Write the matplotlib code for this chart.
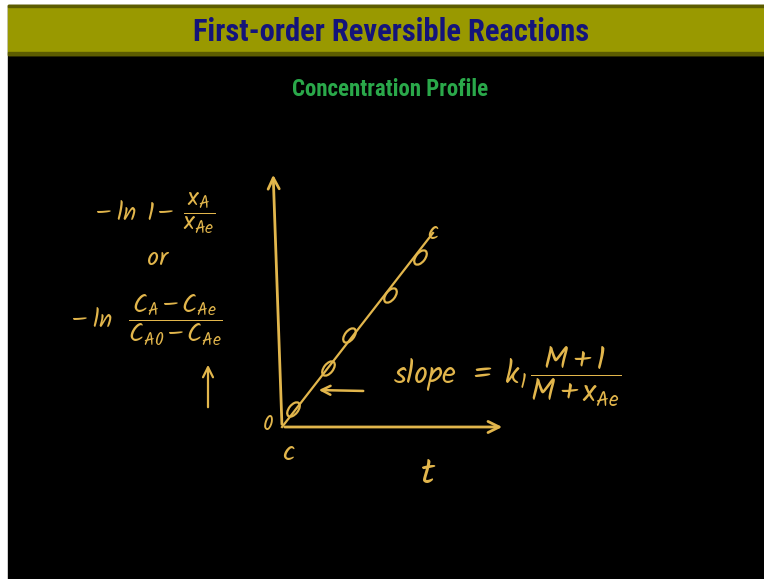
import matplotlib
matplotlib.use("Agg")
import matplotlib.pyplot as plt
from matplotlib.patches import Rectangle
from matplotlib.markers import MarkerStyle
from matplotlib.transforms import Affine2D

SLIDE_FONT = ['Roboto Condensed', 'PT Sans Narrow', 'Archivo Narrow', 'DejaVu Sans']
HAND_FONT = ['Kalam', 'Caveat', 'DejaVu Sans']

plt.rcParams['font.family'] = SLIDE_FONT
plt.rcParams['mathtext.fontset'] = 'custom'
plt.rcParams['mathtext.rm'] = 'Kalam'
plt.rcParams['mathtext.it'] = 'Kalam'
plt.rcParams['mathtext.bf'] = 'Kalam:bold'
plt.rcParams['mathtext.fallback'] = 'stixsans'

# slide text
TITLE = "First-order Reversible Reactions"
SUBTITLE = "Concentration Profile"

# measured points (t, -ln term) and the sketched straight line through them
t_pts = [0.48, 2.06, 3.02, 4.84, 6.19]
y_pts = [0.69, 2.30, 3.61, 5.18, 6.68]
line_t = [0.0, 6.77]
line_y = [0.0, 7.61]

INK = '#e2b64c'
W, H = 764, 579

fig = plt.figure(figsize=(W / 100, H / 100), dpi=100)
fig.patch.set_facecolor('white')

# page layer in pixel units
page = fig.add_axes([0, 0, 1, 1])
page.set_xlim(0, W)
page.set_ylim(H, 0)
page.axis('off')

page.add_patch(Rectangle((8, 5), W - 8, H - 5, color='black', zorder=0))
page.add_patch(Rectangle((8, 5), W - 8, 50, color='#999900', zorder=1))
page.add_patch(Rectangle((8, 5), W - 8, 2, color='#5c5c00', zorder=2))
page.add_patch(Rectangle((8, 52), W - 8, 3, color='#5c5c00', zorder=2))

page.text(391, 32, TITLE, color='#14147a', fontsize=22, fontweight='bold',
          ha='center', va='center', zorder=3)
page.text(390, 89, SUBTITLE, color='#2aa84a', fontsize=16.5, fontweight='bold',
          ha='center', va='center', zorder=3)

# handwritten notes
hand = dict(color=INK, ha='center', va='center', zorder=3, family=HAND_FONT)
page.text(155, 213, r'$-\ \ln\ 1-\ \dfrac{x_A}{x_{Ae}}$', fontsize=18, **hand)
page.text(157, 258, 'or', fontsize=19, **hand)
page.text(147, 320, r'$-\ \ln\ \ \dfrac{C_A - C_{Ae}}{C_{A0} - C_{Ae}}$',
          fontsize=18, **hand)
page.annotate('', xy=(208, 362), xytext=(208, 410),
              arrowprops=dict(arrowstyle='->', color=INK, lw=1.6,
                              mutation_scale=18), zorder=3)
page.text(507, 377, r'slope $=\ k_1\,\dfrac{M+1}{M+x_{Ae}}$', fontsize=22, **hand)
page.annotate('', xy=(316, 390), xytext=(366, 391),
              arrowprops=dict(arrowstyle='->', color=INK, lw=1.8,
                              mutation_scale=16), zorder=3)
page.text(268, 424, '0', fontsize=15, **hand)
page.text(288, 452, 'c', fontsize=20, **hand)
page.text(433, 232, 'c', fontsize=18, **hand)
page.text(428, 474, 't', fontsize=26, **hand)

# sketched plot
ax = fig.add_axes([282 / W, (H - 427) / H, 223 / W, 255 / H])
ax.set_xlim(0, 10)
ax.set_ylim(0, 10)
ax.patch.set_alpha(0)
for s in ax.spines.values():
    s.set_visible(False)
ax.set_xticks([])
ax.set_yticks([])

ax.annotate('', xy=(1.0, 0.0), xytext=(0.0, 0.0), xycoords='axes fraction',
            arrowprops=dict(arrowstyle='->', color=INK, lw=2, mutation_scale=20))
ax.annotate('', xy=(-0.04, 1.0), xytext=(0.0, 0.0), xycoords='axes fraction',
            arrowprops=dict(arrowstyle='->', color=INK, lw=2, mutation_scale=20))

ax.plot(line_t, line_y, color=INK, lw=1.6, clip_on=False)
oval = MarkerStyle('o', transform=Affine2D().scale(1.0, 0.55).rotate_deg(52))
ax.plot(t_pts, y_pts, linestyle='none', marker=oval, ms=12, mfc='none',
        mec=INK, mew=1.6, clip_on=False)

fig.savefig('out.png', dpi=100, facecolor=fig.get_facecolor())
